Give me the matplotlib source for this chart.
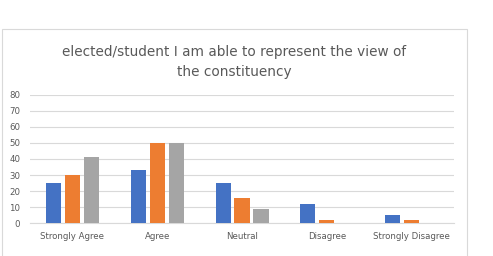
import matplotlib
matplotlib.use("Agg")
import matplotlib.pyplot as plt
import numpy as np
from matplotlib.patches import Rectangle

categories = ["Strongly Agree", "Agree", "Neutral", "Disagree", "Strongly Disagree"]
series1 = [25, 33, 25, 12, 5]
series2 = [30, 50, 16, 2, 2]
series3 = [41, 50, 9, 0, 0]
yticks = [0, 10, 20, 30, 40, 50, 60, 70, 80]
title = "elected/student I am able to represent the view of\nthe constituency"

colors = ["#4472C4", "#ED7D31", "#A5A5A5"]
text_color = "#595959"
grid_color = "#D9D9D9"

fig = plt.figure(figsize=(4.93, 2.56), dpi=100)
fig.patch.set_facecolor("white")
fig.patches.append(Rectangle((2/493, -0.1), 465/493, 1.1 - 29/256, transform=fig.transFigure,
                             fill=False, edgecolor="#D9D9D9", linewidth=0.8))

ax = fig.add_axes([30/493, 1 - 223.3/256, (454-30)/493, (223.3-94.7)/256])
x = np.arange(len(categories))
w = 0.177
off = 0.224
for i, (vals, c) in enumerate(zip([series1, series2, series3], colors)):
    ax.bar(x + (i - 1) * off, vals, width=w, color=c, zorder=3)

ax.set_xlim(-0.5, len(categories) - 0.5)
ax.set_ylim(0, 80)
ax.set_yticks(yticks)
ax.set_xticks(x)
ax.set_xticklabels(categories)
ax.grid(axis="y", color=grid_color, linewidth=0.8, zorder=0)
for s in ["left", "right", "top"]:
    ax.spines[s].set_visible(False)
ax.spines["bottom"].set_color(grid_color)
ax.spines["bottom"].set_linewidth(0.8)
ax.tick_params(axis="both", length=0, labelsize=6.2, labelcolor=text_color)
ax.tick_params(axis="y", pad=7)
ax.tick_params(axis="x", pad=6.5)

fig.text(234/493, 1 - 62/256, title, ha="center", va="center", fontsize=9.8,
         color=text_color, linespacing=1.55)

fig.savefig("out.png", dpi=100)
